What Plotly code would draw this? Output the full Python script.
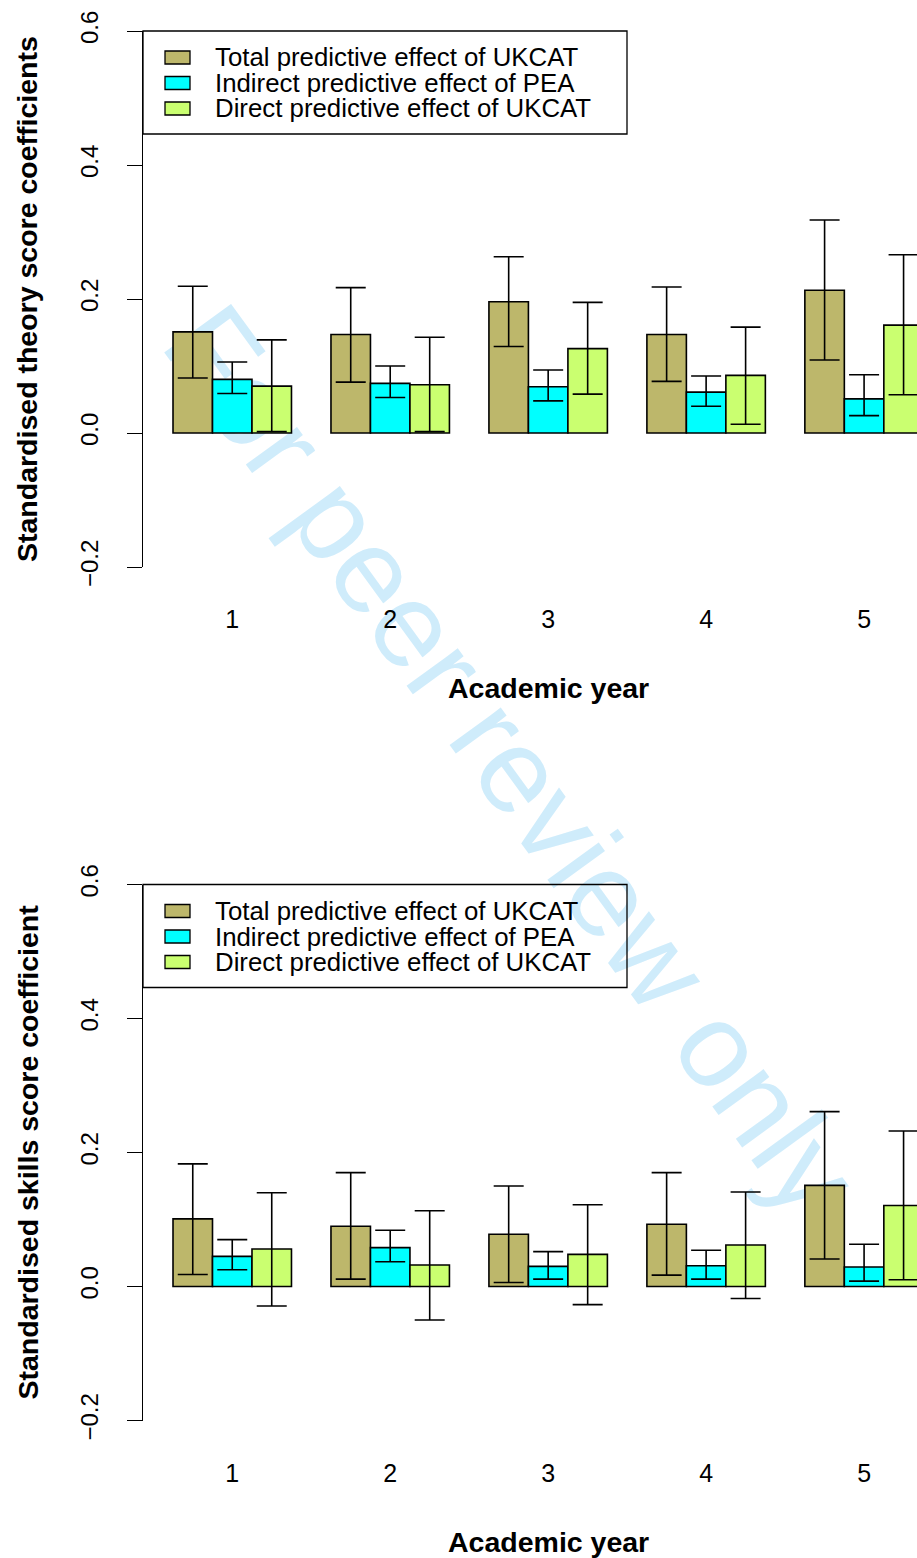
import plotly.graph_objects as go

# ---------------- data ----------------
years = ["1", "2", "3", "4", "5"]
series_names = ["Total predictive effect of UKCAT",
                "Indirect predictive effect of PEA",
                "Direct predictive effect of UKCAT"]
series_colors = ["#BDB76B", "#00FFFF", "#CAFF70"]

theory_total = [0.151, 0.147, 0.196, 0.147, 0.213]
theory_total_lo = [0.082, 0.076, 0.129, 0.077, 0.109]
theory_total_hi = [0.219, 0.217, 0.263, 0.218, 0.318]
theory_indirect = [0.080, 0.074, 0.069, 0.061, 0.051]
theory_indirect_lo = [0.059, 0.053, 0.048, 0.040, 0.026]
theory_indirect_hi = [0.106, 0.100, 0.094, 0.085, 0.087]
theory_direct = [0.070, 0.072, 0.126, 0.086, 0.161]
theory_direct_lo = [0.002, 0.002, 0.058, 0.013, 0.057]
theory_direct_hi = [0.139, 0.143, 0.195, 0.158, 0.266]

skills_total = [0.101, 0.090, 0.078, 0.093, 0.151]
skills_total_lo = [0.018, 0.011, 0.006, 0.017, 0.041]
skills_total_hi = [0.183, 0.170, 0.150, 0.170, 0.261]
skills_indirect = [0.045, 0.058, 0.030, 0.031, 0.029]
skills_indirect_lo = [0.025, 0.037, 0.011, 0.011, 0.008]
skills_indirect_hi = [0.070, 0.084, 0.052, 0.054, 0.063]
skills_direct = [0.056, 0.032, 0.048, 0.062, 0.121]
skills_direct_lo = [-0.029, -0.050, -0.027, -0.018, 0.010]
skills_direct_hi = [0.140, 0.113, 0.122, 0.141, 0.232]

y_tick_vals = [-0.2, 0.0, 0.2, 0.4, 0.6]
y_tick_text = ["\u22120.2", "0.0", "0.2", "0.4", "0.6"]

theory_title = "Standardised theory score coefficients"
skills_title = "Standardised skills score coefficient"
x_title = "Academic year"
watermark = "For peer review only"

# ---------------- layout helpers ----------------
W, H = 917, 1558
FONT = "Liberation Sans, Arial, Helvetica, sans-serif"


def px(x):
    return x / W


def py(y):
    return 1 - y / H


panels = [
    dict(vals=[theory_total, theory_indirect, theory_direct],
         lo=[theory_total_lo, theory_indirect_lo, theory_direct_lo],
         hi=[theory_total_hi, theory_indirect_hi, theory_direct_hi],
         title=theory_title, top=31, bottom=567),
    dict(vals=[skills_total, skills_indirect, skills_direct],
         lo=[skills_total_lo, skills_indirect_lo, skills_direct_lo],
         hi=[skills_total_hi, skills_indirect_hi, skills_direct_hi],
         title=skills_title, top=884.5, bottom=1420.5),
]

fig = go.Figure()
group_centers = [4 * k + 2.5 for k in range(len(years))]

for p_i, pan in enumerate(panels):
    xa = "x" if p_i == 0 else "x2"
    ya = "y" if p_i == 0 else "y2"
    for j in range(3):
        vals = pan["vals"][j]
        xs = [4 * k + 1.5 + j for k in range(len(years))]
        fig.add_trace(go.Bar(
            x=xs, y=vals, width=1.0, xaxis=xa, yaxis=ya,
            name=series_names[j], showlegend=False,
            marker=dict(color=series_colors[j], line=dict(color="black", width=1.6)),
            error_y=dict(type="data", symmetric=False,
                         array=[h - v for h, v in zip(pan["hi"][j], vals)],
                         arrayminus=[v - l for v, l in zip(vals, pan["lo"][j])],
                         color="black", thickness=1.6, width=15),
        ))

axis_common_x = dict(range=[0.24, 19.84], domain=[143 / W, 1], showgrid=False,
                     zeroline=False, showline=False, ticks="", automargin=False,
                     tickvals=group_centers, ticktext=years,
                     tickfont=dict(family=FONT, size=25, color="black"),
                     ticklabelstandoff=35, fixedrange=True)
axis_common_y = dict(range=[-0.2, 0.6], showgrid=False, zeroline=False, automargin=False,
                     showline=True, linecolor="black", linewidth=1.3,
                     ticks="outside", ticklen=15, tickwidth=1.3, tickcolor="black",
                     tickvals=y_tick_vals, ticktext=y_tick_text, tickangle=-90,
                     tickfont=dict(family=FONT, size=24, color="black"),
                     ticklabelstandoff=19, fixedrange=True)

fig.update_layout(
    xaxis=dict(anchor="y", **axis_common_x),
    yaxis=dict(anchor="x", domain=[py(panels[0]["bottom"]), py(panels[0]["top"])], **axis_common_y),
    xaxis2=dict(anchor="y2", **axis_common_x),
    yaxis2=dict(anchor="x2", domain=[py(panels[1]["bottom"]), py(panels[1]["top"])], **axis_common_y),
)

shapes = []
annotations = []

# watermark (drawn beneath everything)
cx, cy = 521, 753
dx, dy = 0.588 * 400, 0.809 * 400
shapes.append(dict(
    type="line", xref="paper", yref="paper", layer="below",
    x0=px(cx - dx), y0=py(cy - dy), x1=px(cx + dx), y1=py(cy + dy),
    line=dict(color="rgba(0,0,0,0)", width=0),
    label=dict(text=watermark, textposition="middle",
               yanchor="middle", xanchor="center",
               font=dict(family=FONT, size=120, color="rgb(207,236,251)")),
))

for p_i, pan in enumerate(panels):
    off = 0 if p_i == 0 else 853.5
    # legend box
    shapes.append(dict(type="rect", xref="paper", yref="paper",
                       x0=px(143), x1=px(627), y0=py(31 + off), y1=py(134 + off),
                       line=dict(color="black", width=1.3), fillcolor="rgba(0,0,0,0)"))
    for j in range(3):
        yc = 57.5 + 25.5 * j + off
        shapes.append(dict(type="rect", xref="paper", yref="paper",
                           x0=px(165), x1=px(190), y0=py(yc - 6.5), y1=py(yc + 6.5),
                           line=dict(color="black", width=1.3),
                           fillcolor=series_colors[j]))
        annotations.append(dict(text=series_names[j], xref="paper", yref="paper",
                                x=px(213), y=py(yc), xanchor="left", yanchor="middle",
                                showarrow=False,
                                font=dict(family=FONT, size=25.8, color="black")))
    # axis titles
    mid = (pan["top"] + pan["bottom"]) / 2
    annotations.append(dict(text="<b>%s</b>" % pan["title"], xref="paper", yref="paper",
                            x=px(27), y=py(mid), xanchor="center", yanchor="middle",
                            textangle=-90, showarrow=False,
                            font=dict(family=FONT, size=28.5, color="black")))
    annotations.append(dict(text="<b>%s</b>" % x_title, xref="paper", yref="paper",
                            x=px(548), y=py(688 + off), xanchor="center", yanchor="middle",
                            showarrow=False,
                            font=dict(family=FONT, size=28.5, color="black")))

fig.update_layout(
    width=W, height=H, margin=dict(l=0, r=0, t=0, b=0, autoexpand=False),
    paper_bgcolor="white", plot_bgcolor="rgba(0,0,0,0)",
    barmode="overlay", showlegend=False,
    shapes=shapes, annotations=annotations,
    font=dict(family=FONT, color="black"),
)

fig.write_html("out.html", post_script="document.body.style.margin='0px';",
               config={"displayModeBar": False})
